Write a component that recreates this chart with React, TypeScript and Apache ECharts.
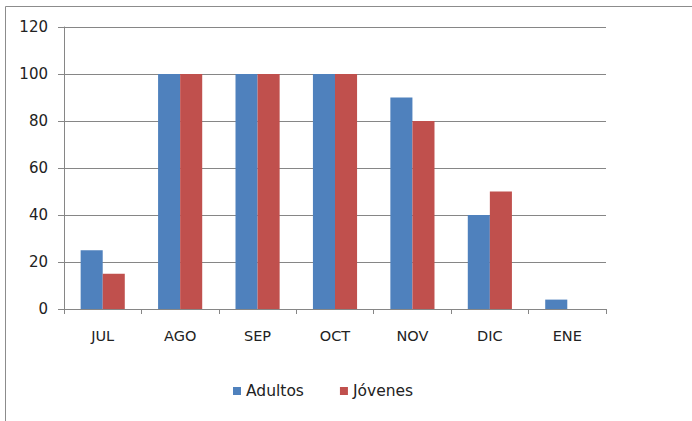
import React, { useEffect, useRef } from "react";
import * as echarts from "echarts";

const categories = ["JUL", "AGO", "SEP", "OCT", "NOV", "DIC", "ENE"];
const adultos = [25, 100, 100, 100, 90, 40, 4];
const jovenes = [15, 100, 100, 100, 80, 50, 0];
const seriesNames = ["Adultos", "Jóvenes"];
const yTicks = { min: 0, max: 120, interval: 20 };

export default function App() {
  const ref = useRef<HTMLDivElement>(null);
  useEffect(() => {
    const chart = echarts.init(ref.current!, undefined, { renderer: "svg" });
    const font = "'DejaVu Sans', sans-serif";
    chart.setOption({
      animation: false,
      backgroundColor: "#ffffff",
      graphic: [
        {
          type: "rect",
          shape: { x: 5.5, y: 6.5, width: 720, height: 440 },
          style: { fill: "none", stroke: "#8c8c8c", lineWidth: 1 },
          silent: true,
        },
      ],
      grid: { left: 64, right: 86, top: 27, bottom: 112, containLabel: false },
      legend: {
        data: seriesNames,
        top: 378,
        left: 228,
        itemWidth: 8,
        itemHeight: 8,
        itemGap: 36,
        icon: "rect",
        textStyle: { fontFamily: font, fontSize: 15.5, color: "#222" },
      },
      xAxis: {
        type: "category",
        data: categories,
        axisLine: { show: true, lineStyle: { color: "#868686", width: 1 } },
        axisTick: { show: true, alignWithLabel: false, length: 5, lineStyle: { color: "#868686" } },
        axisLabel: { fontFamily: font, fontSize: 14.5, color: "#222", margin: 19 },
        splitLine: { show: false },
      },
      yAxis: {
        type: "value",
        min: yTicks.min,
        max: yTicks.max,
        interval: yTicks.interval,
        axisLine: { show: true, lineStyle: { color: "#868686", width: 1 } },
        axisTick: { show: true, inside: false, length: 6, lineStyle: { color: "#868686" } },
        axisLabel: { fontFamily: font, fontSize: 15, color: "#222", margin: 16 },
        splitLine: { show: true, lineStyle: { color: "#868686", width: 1 } },
      },
      series: [
        {
          name: seriesNames[0],
          type: "bar",
          data: adultos,
          itemStyle: { color: "#4F81BD" },
          barGap: "0%",
          barCategoryGap: "43%",
        },
        {
          name: seriesNames[1],
          type: "bar",
          data: jovenes,
          itemStyle: { color: "#C0504D" },
          barGap: "0%",
          barCategoryGap: "43%",
        },
      ],
    });
    return () => chart.dispose();
  }, []);
  return (
    <div
      ref={ref}
      style={{ position: "fixed", left: 0, top: 0, width: 692, height: 421 }}
    />
  );
}
